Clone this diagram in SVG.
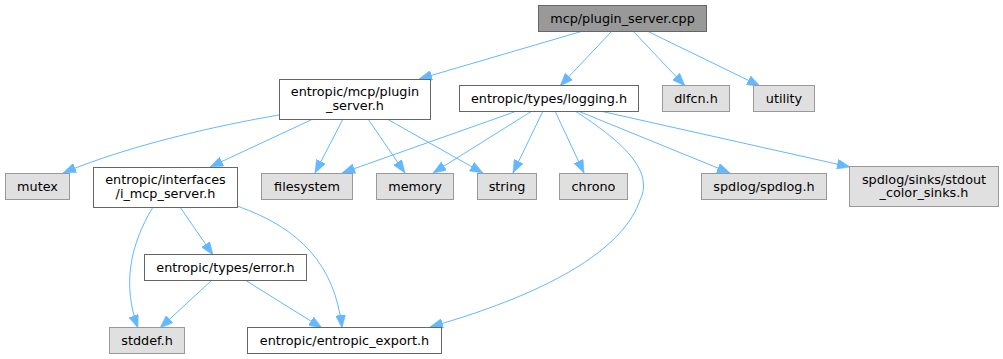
<svg xmlns="http://www.w3.org/2000/svg" width="1003" height="359" viewBox="0 0 1003 359">
<style>
  text { font-family: "DejaVu Sans", "Liberation Sans", sans-serif; font-size: 12.8px; fill: #000; text-anchor: middle; }
  .root rect { fill: #999999; stroke: #666666; stroke-width: 1; }
  .doc rect { fill: #ffffff; stroke: #666666; stroke-width: 1; }
  .sys rect { fill: #e0e0e0; stroke: #999999; stroke-width: 1; }
  .edge { fill: none; stroke: #63b8ff; stroke-width: 1; marker-end: url(#arr); }
</style>
<defs>
  <marker id="arr" markerUnits="userSpaceOnUse" viewBox="0 0 13 10" refX="13" refY="5" markerWidth="13" markerHeight="10" orient="auto">
    <path d="M0,0 L13,5 L0,10 z" fill="#63b8ff" stroke="#63b8ff" stroke-width="0.5"/>
  </marker>
</defs>
<rect width="1003" height="359" fill="#ffffff"/>
<g id="connectors">
  <path class="edge" d="M583,31 L419,79"/>
  <path class="edge" d="M612,31 L560,86"/>
  <path class="edge" d="M633,31 L685,86"/>
  <path class="edge" d="M647,31 L760,86"/>
  <path class="edge" d="M279,115 C220,125 130,145 63,173"/>
  <path class="edge" d="M313,119 L210,167"/>
  <path class="edge" d="M343,119 L315,173"/>
  <path class="edge" d="M368,119 L405,173"/>
  <path class="edge" d="M387,119 L483,173"/>
  <path class="edge" d="M517,111 L342,173"/>
  <path class="edge" d="M532,111 L433,173"/>
  <path class="edge" d="M543,111 L513,173"/>
  <path class="edge" d="M555,111 L584,173"/>
  <path class="edge" d="M578,111 L730,173"/>
  <path class="edge" d="M600,111 L850,167"/>
  <path class="edge" d="M575,111 C620,140 655,170 640,200 C625,245 560,290 430,327"/>
  <path class="edge" d="M153,207 C130,245 122,285 138,328"/>
  <path class="edge" d="M180,207 L213,255"/>
  <path class="edge" d="M237,206 C300,228 335,265 342,328"/>
  <path class="edge" d="M212,280 L160,328"/>
  <path class="edge" d="M245,280 L322,328"/>
</g>
<g id="node-root" class="root">
  <rect x="538.5" y="5.5" width="168" height="26"/>
  <text x="622.5" y="22.8">mcp/plugin_server.cpp</text>
</g>
<g id="node-plugin-server-h" class="doc">
  <rect x="279.5" y="79.5" width="151" height="40"/>
  <text x="355" y="96">entropic/mcp/plugin</text>
  <text x="355" y="109.5">_server.h</text>
</g>
<g id="node-logging-h" class="doc">
  <rect x="459.5" y="85.5" width="179" height="26"/>
  <text x="549" y="103">entropic/types/logging.h</text>
</g>
<g id="node-dlfcn-h" class="sys">
  <rect x="662.5" y="85.5" width="67" height="26"/>
  <text x="696" y="103">dlfcn.h</text>
</g>
<g id="node-utility" class="sys">
  <rect x="753.5" y="85.5" width="61" height="26"/>
  <text x="784" y="103">utility</text>
</g>
<g id="node-mutex" class="sys">
  <rect x="5.5" y="173.5" width="64" height="26"/>
  <text x="37.5" y="191">mutex</text>
</g>
<g id="node-i-mcp-server-h" class="doc">
  <rect x="93.5" y="167.5" width="144" height="40"/>
  <text x="165.5" y="184">entropic/interfaces</text>
  <text x="165.5" y="197.5">/i_mcp_server.h</text>
</g>
<g id="node-filesystem" class="sys">
  <rect x="261.5" y="173.5" width="91" height="26"/>
  <text x="307" y="191">filesystem</text>
</g>
<g id="node-memory" class="sys">
  <rect x="376.5" y="173.5" width="77" height="26"/>
  <text x="415" y="191">memory</text>
</g>
<g id="node-string" class="sys">
  <rect x="477.5" y="173.5" width="59" height="26"/>
  <text x="507" y="191">string</text>
</g>
<g id="node-chrono" class="sys">
  <rect x="559.5" y="173.5" width="68" height="26"/>
  <text x="593.5" y="191">chrono</text>
</g>
<g id="node-spdlog-h" class="sys">
  <rect x="701.5" y="173.5" width="125" height="26"/>
  <text x="764" y="191">spdlog/spdlog.h</text>
</g>
<g id="node-stdout-color-sinks-h" class="sys">
  <rect x="849.5" y="166.5" width="149" height="40"/>
  <text x="924" y="183.5">spdlog/sinks/stdout</text>
  <text x="924" y="197">_color_sinks.h</text>
</g>
<g id="node-error-h" class="doc">
  <rect x="144.5" y="254.5" width="162" height="26"/>
  <text x="225.5" y="272">entropic/types/error.h</text>
</g>
<g id="node-stddef-h" class="sys">
  <rect x="109.5" y="327.5" width="75" height="26"/>
  <text x="147" y="345">stddef.h</text>
</g>
<g id="node-entropic-export-h" class="doc">
  <rect x="247.5" y="327.5" width="194" height="26"/>
  <text x="344.5" y="345">entropic/entropic_export.h</text>
</g>
</svg>
